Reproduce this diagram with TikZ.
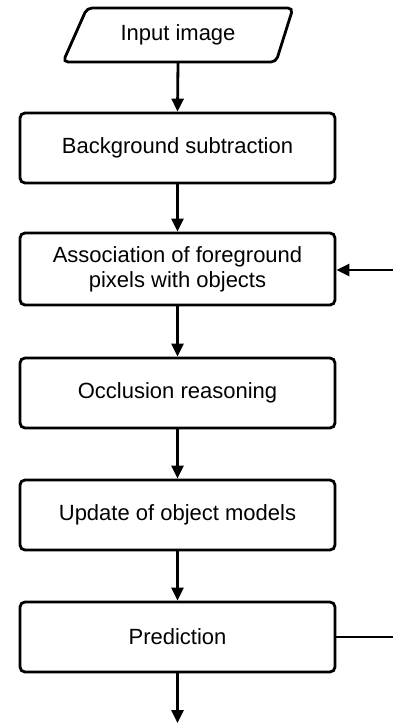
\documentclass[tikz,border=0pt]{standalone}
\usepackage{fontspec}
\setmainfont{Liberation Sans}
\usetikzlibrary{arrows.meta}
\begin{document}
\begin{tikzpicture}[x=1pt,y=-1pt,
  stepbox/.style={draw,line width=2.8pt,rounded corners=5pt,minimum width=315pt,minimum height=70pt,align=center,font=\fontsize{22pt}{25pt}\selectfont,inner sep=0pt},
  flow/.style={line width=2.8pt,-{Triangle[width=12pt,length=13pt]}},
  plain/.style={line width=2.8pt}]
\useasboundingbox (0,0) rectangle (392,725);
\draw[line width=2.8pt,rounded corners=5pt] (87,8) -- (293,8) -- (276,62) -- (63,62) -- cycle;
\node[minimum width=200pt,minimum height=54pt,inner sep=0pt,font=\fontsize{22pt}{25pt}\selectfont] (in) at (178,35) {Input image};
\node[stepbox] (bg) at (177.5,148) {Background subtraction};
\node[stepbox,minimum height=72pt] (as) at (177.5,269) {Association of foreground\\pixels with objects};
\node[stepbox] (oc) at (177.5,393) {Occlusion reasoning};
\node[stepbox] (up) at (177.5,515) {Update of object models};
\node[stepbox] (pr) at (177.5,637) {Prediction};
\coordinate (fbout) at (393,637);
\coordinate (fbin) at (393,270);
\coordinate (end) at (177.5,723);
\draw[flow] (in.south) -- (bg.north);
\draw[flow] (bg) -- (as);
\draw[flow] (as) -- (oc);
\draw[flow] (oc) -- (up);
\draw[flow] (up) -- (pr);
\draw[flow] (pr) -- (end);
\draw[plain] (pr.east) -- (fbout);
\draw[flow] (fbin) -- (as.east |- fbin);
\end{tikzpicture}
\end{document}
